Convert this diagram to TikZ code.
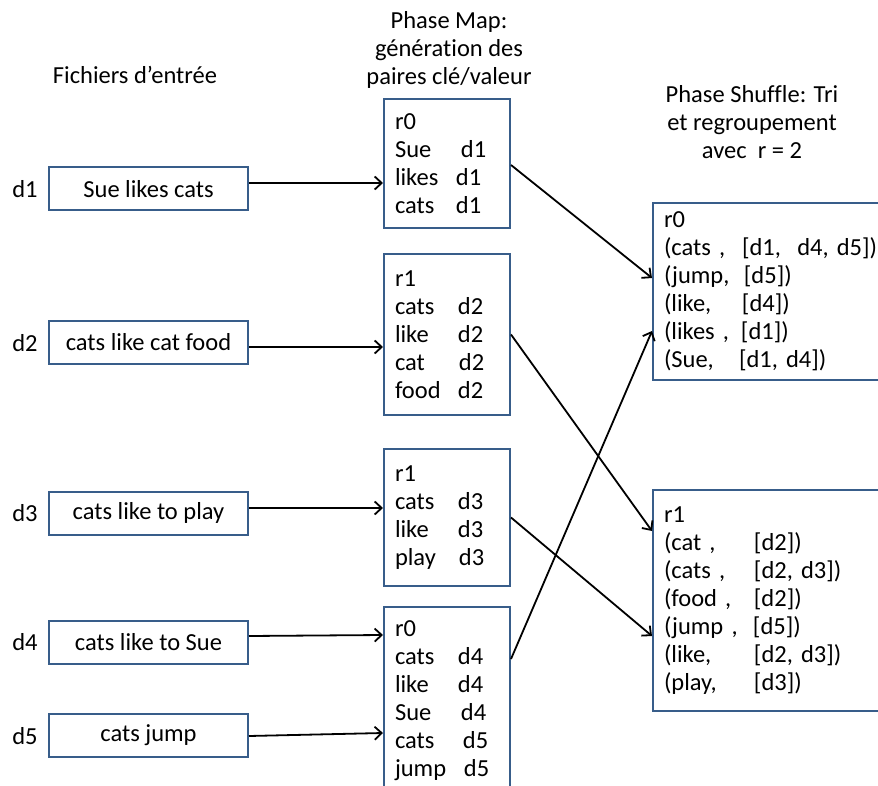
\documentclass[tikz,border=0pt]{standalone}
\usepackage{fontspec}
\setmainfont{Carlito}[Ligatures=NoCommon]
\usetikzlibrary{arrows.meta,calc}
\definecolor{boxblue}{RGB}{56,93,138}
% key/value row: key in a fixed-width slot, then the value
\newcommand{\kv}[3]{\makebox[#1pt][l]{#2}#3}

\begin{document}
\begin{tikzpicture}[x=1pt,y=-1pt,
  every node/.style={font=\fontsize{24.5}{28}\selectfont, inner sep=0pt},
  docbox/.style={draw=boxblue, line width=2pt, minimum width=199pt, minimum height=43pt},
  kvbox/.style={draw=boxblue, line width=2pt, anchor=north west, align=left,
                inner xsep=11pt, text width=#1},
  header/.style={align=center},
  link/.style={-{Straight Barb[length=7pt,width=13pt]}, line width=1.8pt}
]
\useasboundingbox (0,0) rectangle (878,786);
\clip (0,0) rectangle (878,786);

% column headers
\node[header] (hin)  at (135,75)  {Fichiers d’entrée};
\node[header] (hmap) at (449,50)  {Phase Map:\\génération des\\paires clé/valeur};
\node[header] (hshf) at (752,122) {Phase Shuffle: Tri\\et regroupement\\avec\ \ r = 2};

% input documents
\node (l1) at (25,189) {d1};
\node (l2) at (25,343) {d2};
\node (l3) at (25,513) {d3};
\node (l4) at (25,642) {d4};
\node (l5) at (25,736) {d5};
\node[docbox] (d1) at (148.5,189)   {Sue likes cats};
\node[docbox] (d2) at (148.5,342)   {cats like cat food};
\node[docbox] (d3) at (148.5,513)   {cats like to play};
\node[docbox] (d4) at (148.5,642.5) {cats like to Sue};
\node[docbox] (d5) at (148.5,735)   {cats jump};

% map output
\node[kvbox=104pt, minimum height=129pt] (m1) at (383,98)
  {r0\\\kv{66}{Sue}{d1}\\\kv{61}{likes}{d1}\\\kv{61}{cats}{d1}};
\node[kvbox=104pt, minimum height=161pt] (m2) at (383,253)
  {r1\\\kv{63}{cats}{d2}\\\kv{63}{like}{d2}\\\kv{64}{cat}{d2}\\\kv{63}{food}{d2}};
\node[kvbox=104pt, minimum height=137pt] (m3) at (383,448)
  {r1\\\kv{63}{cats}{d3}\\\kv{63}{like}{d3}\\\kv{64}{play}{d3}};
\node[kvbox=104pt, minimum height=188pt] (m4) at (383,606)
  {r0\\\kv{63}{cats}{d4}\\\kv{63}{like}{d4}\\\kv{66}{Sue}{d4}\\\kv{68}{cats}{d5}\\\kv{69}{jump}{d5}};

% shuffle output
\node[kvbox=214pt, minimum height=177pt] (r0) at (652,202)
  {r0\\\kv{78}{(cats ,}{[d1,\ \ d4, d5])}\\\kv{80}{(jump,}{[d5])}\\\kv{78}{(like,}{[d4])}\\\kv{77}{(likes ,}{[d1])}\\\kv{75}{(Sue,}{[d1, d4])}};
\node[kvbox=214pt, minimum height=221pt] (r1) at (652,489)
  {r1\\\kv{90}{(cat ,}{[d2])}\\\kv{90}{(cats ,}{[d2, d3])}\\\kv{90}{(food ,}{[d2])}\\\kv{89}{(jump ,}{[d5])}\\\kv{90}{(like,}{[d2, d3])}\\\kv{90}{(play,}{[d3])}};

% documents to mappers
\draw[link] ($(d1.east)+(0,-6)$) -- ($(m1.west |- d1.east)+(0,-6)$);
\draw[link] ($(d2.east)+(0,5)$)  -- ($(m2.west |- d2.east)+(0,5)$);
\draw[link] ($(d3.east)+(0,-5)$) -- ($(m3.west |- d3.east)+(0,-5)$);
\draw[link] ($(d4.east)+(0,-6.5)$) -- ($(m4.west)+(0,-66)$);
\draw[link] ($(d5.east)+(0,1)$)  -- ($(m4.west)+(0,32)$);

% mappers to reducers
\draw[link] ($(m1.east)+(0,1.5)$) -- ($(r0.west)+(0,-13.5)$);
\draw[link] (m2.east) -- ($(r1.west)+(0,-69.5)$);
\draw[link] (m3.east) -- ($(r1.west)+(0,35.5)$);
\draw[link] ($(m4.east)+(0,-42)$) -- ($(r0.west)+(0,39.5)$);
\end{tikzpicture}
\end{document}
